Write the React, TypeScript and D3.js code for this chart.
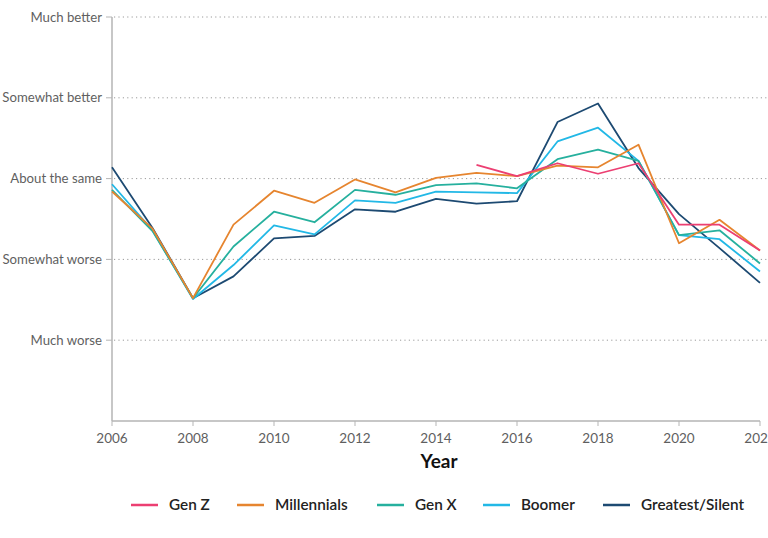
import React from "react";
import * as d3 from "d3";

const years = [2006, 2007, 2008, 2009, 2010, 2011, 2012, 2013, 2014, 2015, 2016, 2017, 2018, 2019, 2020, 2021, 2022];
const yTickLabels = ["Much worse", "Somewhat worse", "About the same", "Somewhat better", "Much better"];
const yTickValues = [1, 2, 3, 4, 5];
const xTickValues = [2006, 2008, 2010, 2012, 2014, 2016, 2018, 2020, 2022];

const genZ = [null, null, null, null, null, null, null, null, null, 3.17, 3.03, 3.19, 3.06, 3.19, 2.43, 2.43, 2.11];
const millennials = [2.84, 2.38, 1.52, 2.43, 2.85, 2.7, 2.99, 2.83, 3.01, 3.07, 3.03, 3.16, 3.14, 3.42, 2.2, 2.49, 2.11];
const genX = [2.86, 2.35, 1.52, 2.16, 2.59, 2.46, 2.86, 2.8, 2.92, 2.94, 2.88, 3.24, 3.36, 3.22, 2.3, 2.36, 1.95];
const boomer = [2.93, 2.36, 1.51, 1.93, 2.42, 2.31, 2.73, 2.7, 2.84, 2.83, 2.82, 3.46, 3.63, 3.22, 2.3, 2.25, 1.85];
const greatest = [3.14, 2.39, 1.52, 1.79, 2.26, 2.29, 2.62, 2.59, 2.75, 2.69, 2.72, 3.7, 3.93, 3.13, 2.56, 2.14, 1.71];

const seriesNames = ["Gen Z", "Millennials", "Gen X", "Boomer", "Greatest/Silent"];
const seriesColors = ["#ec3f72", "#e6852f", "#26b09e", "#22b8e6", "#1d4a72"];
const seriesValues = [genZ, millennials, genX, boomer, greatest];

const legendLineX = [131, 237, 377, 483, 603];

export default function App() {
  const W = 768;
  const H = 538;
  const x = d3.scaleLinear().domain([2006, 2022]).range([112, 760]);
  const y = d3.scaleLinear().domain([0, 5]).range([421, 17]);
  const line = d3
    .line<number | null>()
    .defined((d) => d != null)
    .x((_, i) => x(years[i]))
    .y((d) => y(d as number));

  const font = "Lato, 'Open Sans', sans-serif";

  return (
    <svg width={W} height={H} style={{ position: "absolute", left: 0, top: 0, background: "#fff" }} fontFamily={font}>
      {/* gridlines */}
      {yTickValues.map((v) => (
        <line key={"g" + v} x1={114} x2={W} y1={y(v)} y2={y(v)} stroke="#9a9a9a" strokeWidth={1} strokeDasharray="1.2,3.2" />
      ))}
      {/* y axis */}
      <line x1={112} x2={112} y1={17} y2={421} stroke="#b5b5b5" strokeWidth={1.5} />
      {yTickValues.map((v, i) => (
        <g key={"yt" + v}>
          <line x1={106} x2={112} y1={y(v)} y2={y(v)} stroke="#b5b5b5" strokeWidth={1} />
          <text x={102} y={y(v)} dy="0.35em" textAnchor="end" fontSize={13.2} fill="#5f5f5f">
            {yTickLabels[i]}
          </text>
        </g>
      ))}
      {/* x axis */}
      <line x1={112} x2={760} y1={421} y2={421} stroke="#b5b5b5" strokeWidth={1.5} />
      {xTickValues.map((v) => (
        <g key={"xt" + v}>
          <line x1={x(v)} x2={x(v)} y1={421} y2={426} stroke="#b5b5b5" strokeWidth={1} />
          <text x={x(v)} y={438} dy="0.35em" textAnchor="middle" fontSize={13.5} fill="#5f5f5f">
            {v}
          </text>
        </g>
      ))}
      <text x={439} y={461} dy="0.35em" textAnchor="middle" fontSize={19} fontWeight={700} fill="#111">
        Year
      </text>
      {/* lines (draw back-to-front) */}
      {[4, 3, 2, 1, 0].map((k) => (
        <path
          key={"s" + k}
          d={line(seriesValues[k] as (number | null)[]) || ""}
          fill="none"
          stroke={seriesColors[k]}
          strokeWidth={1.8}
          strokeLinejoin="round"
        />
      ))}
      {/* legend */}
      {seriesNames.map((n, i) => (
        <g key={"l" + n}>
          <line x1={legendLineX[i]} x2={legendLineX[i] + 27} y1={505} y2={505} stroke={seriesColors[i]} strokeWidth={2.5} />
          <text x={legendLineX[i] + 38} y={505} dy="0.35em" fontSize={15.3} fontWeight={600} fill="#222">
            {n}
          </text>
        </g>
      ))}
    </svg>
  );
}
